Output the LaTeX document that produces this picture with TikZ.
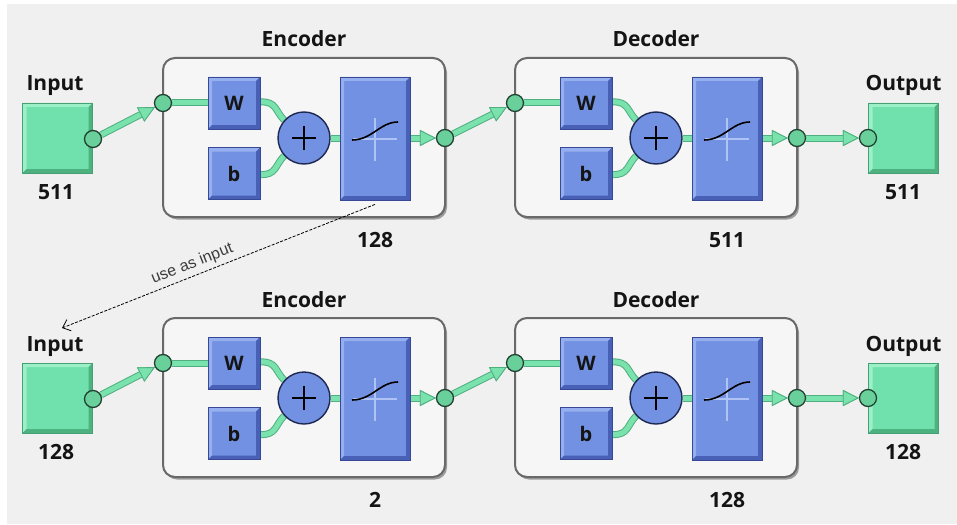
\documentclass[tikz,border=0pt]{standalone}
\usepackage{fontspec}
\setmainfont{Open Sans}
\newfontfamily\notefont{Liberation Sans}
\usetikzlibrary{arrows.meta,shapes.geometric,shadows}
\pgfdeclarelayer{bg}
\pgfdeclarelayer{mid}
\pgfsetlayers{bg,mid,main}
\definecolor{bgc}{RGB}{240,240,240}
\definecolor{boxc}{RGB}{246,246,246}
\definecolor{framec}{RGB}{105,105,105}
\definecolor{bluec}{RGB}{114,145,226}
\definecolor{bluelt}{RGB}{150,175,238}
\definecolor{bluedk}{RGB}{72,96,182}
\definecolor{blueol}{RGB}{55,72,150}
\definecolor{sumol}{RGB}{30,40,80}
\definecolor{sqc}{RGB}{112,225,172}
\definecolor{sqlt}{RGB}{155,240,200}
\definecolor{sqdk}{RGB}{78,178,128}
\definecolor{sqol}{RGB}{70,160,115}
\definecolor{pipec}{RGB}{122,226,172}
\definecolor{pipedk}{RGB}{80,175,128}
\definecolor{portc}{RGB}{105,208,155}
\definecolor{portol}{RGB}{35,65,50}
\definecolor{crossc}{RGB}{175,195,245}
\definecolor{labc}{RGB}{20,20,20}
\definecolor{notec}{RGB}{60,60,60}
\tikzset{
 bevel/.style 2 args={path picture={
   \fill[#1] (path picture bounding box.north west) -- (path picture bounding box.north east) -- ([xshift=-4pt,yshift=-4pt]path picture bounding box.north east) -- ([xshift=4pt,yshift=-4pt]path picture bounding box.north west) -- ([xshift=4pt,yshift=4pt]path picture bounding box.south west) -- (path picture bounding box.south west) -- cycle;
   \fill[#2] (path picture bounding box.south east) -- (path picture bounding box.north east) -- ([xshift=-4pt,yshift=-4pt]path picture bounding box.north east) -- ([xshift=-4pt,yshift=4pt]path picture bounding box.south east) -- ([xshift=4pt,yshift=4pt]path picture bounding box.south west) -- (path picture bounding box.south west) -- cycle;
 }},
 lab/.style={font=\fontsize{21}{25}\selectfont\bfseries, text=labc, anchor=base, inner sep=0pt},
 frame/.style={rectangle, draw=framec, line width=2pt, fill=boxc, rounded corners=12pt, minimum width=282pt, minimum height=159pt, inner sep=0pt, drop shadow={shadow xshift=2pt, shadow yshift=-2.5pt, opacity=0.35, fill=black}},
 wbox/.style={rectangle, draw=blueol, line width=0.8pt, fill=bluec, bevel={bluelt}{bluedk}, minimum width=52pt, minimum height=52pt, inner sep=0pt, font=\fontsize{20}{20}\selectfont\bfseries, text=labc},
 tfbox/.style={rectangle, draw=blueol, line width=0.8pt, fill=bluec, bevel={bluelt}{bluedk}, minimum width=70pt, minimum height=123pt, inner sep=0pt},
 sq/.style={rectangle, draw=sqol, line width=0.8pt, fill=sqc, bevel={sqlt}{sqdk}, minimum width=70pt, minimum height=70pt, inner sep=0pt},
 port/.style={circle, draw=portol, line width=1.3pt, fill=portc, minimum size=17pt, inner sep=0pt},
 sumc/.style={circle, draw=sumol, line width=1.4pt, fill=bluec, minimum size=52pt, inner sep=0pt},
 plusl/.style={line width=2.6pt, draw=black},
 sig/.style={line width=1.6pt, draw=black},
 crossl/.style={line width=1.2pt, draw=crossc},
 pipe/.style={line width=5pt, draw=pipec, preaction={draw=pipedk, line width=7pt}},
 arrpipe/.style={pipe, -{Triangle[length=16pt,width=16pt,line width'=0.8pt,color=pipedk,fill=pipec]}},
 link/.style={line width=0.8pt, draw=black, dash pattern=on 3pt off 1.5pt, -{Straight Barb[length=7pt,width=12pt]}},
}
\begin{document}
\begin{tikzpicture}[x=1pt,y=-1pt]
\useasboundingbox (0,0) rectangle (957,524);
\begin{pgfonlayer}{bg}
\fill[white] (0,0) rectangle (957,524);
\fill[bgc] (7,4) rectangle (957,524);
\foreach \r/\dy in {1/0,2/260}{
 \node[frame] (enc\r) at (304,137.5+\dy) {};
 \node[frame] (dec\r) at (656,137.5+\dy) {};
}
\end{pgfonlayer}
\foreach \r/\dy/\na/\nb/\nc/\nd in {1/0/511/128/511/511,2/260/128/2/128/128}{
\begin{scope}[shift={(0,\dy)}]
 \node[lab] (encl\r) at (304,47) {Encoder};
 \node[lab] (decl\r) at (656,47) {Decoder};
 \node[lab] (inl\r) at (55,91) {Input};
 \node[lab] (outl\r) at (903.5,91) {Output};
 \node[lab] (inn\r) at (56,199) {\na};
 \node[lab] (outn\r) at (903,199) {\nd};
 \node[lab] (encn\r) at (375,247) {\nb};
 \node[lab] (decn\r) at (727,247) {\nc};
 \node[sq] (insq\r) at (57.5,138) {};
 \node[sq] (outsq\r) at (903.5,138) {};
 \node[wbox] (encw\r) at (234,103) {W};
 \node[wbox] (encb\r) at (234,173.5) {b};
 \node[sumc] (encs\r) at (304,138) {};
 \node[tfbox] (enct\r) at (375,138.5) {};
 \node[wbox] (decw\r) at (586,103) {W};
 \node[wbox] (decb\r) at (586,173.5) {b};
 \node[sumc] (decs\r) at (656,138) {};
 \node[tfbox] (dect\r) at (727,138.5) {};
 \node[port] (inp\r) at (93,139) {};
 \node[port] (encin\r) at (163,103) {};
 \node[port] (encout\r) at (445,138) {};
 \node[port] (decin\r) at (515,103) {};
 \node[port] (decout\r) at (797,138) {};
 \node[port] (outp\r) at (868,138) {};
 \foreach \s in {encs\r,decs\r}{
  \draw[plusl] ([xshift=-12pt]\s.center) -- ([xshift=12pt]\s.center);
  \draw[plusl] ([yshift=-12pt]\s.center) -- ([yshift=12pt]\s.center);
 }
 \foreach \t in {enct\r,dect\r}{
  \draw[crossl] ([yshift=-0.5pt,xshift=-22pt]\t.center) -- ([yshift=-0.5pt,xshift=22pt]\t.center);
  \draw[crossl] ([yshift=21pt]\t.center) -- ([yshift=-22pt]\t.center);
  \draw[sig] ([xshift=-23pt,yshift=-1.5pt]\t.center) .. controls +(20pt,0pt) and +(-18pt,0pt) .. ([xshift=23pt,yshift=16.5pt]\t.center);
 }
\end{scope}
}
\begin{pgfonlayer}{mid}
\foreach \r in {1,2}{
 \draw[arrpipe] (inp\r) -- (encin\r);
 \draw[arrpipe] (encout\r) -- (decin\r);
 \draw[arrpipe] (decout\r) -- (outp\r);
 \foreach \p in {enc,dec}{
  \draw[pipe] (\p in\r) -- (\p w\r);
  \draw[pipe] ([yshift=1pt]\p w\r.east) .. controls +(16pt,1pt) and +(-9pt,9pt) .. (\p s\r.138);
  \draw[pipe] ([yshift=-1pt]\p b\r.east) .. controls +(16pt,-1pt) and +(-9pt,-9pt) .. (\p s\r.-138);
  \draw[pipe] (\p s\r.east) -- (\p s\r.east -| \p t\r.west);
  \draw[arrpipe] (\p t\r.east |- \p out\r) -- (\p out\r);
 }
}
\end{pgfonlayer}
\coordinate (ls) at ([yshift=-4pt]enct1.south);
\coordinate (le) at (62,328);
\draw[link] (ls) -- (le);
\path (le) -- (ls) node[pos=0.43, sloped, above=4pt, font=\notefont\fontsize{16}{18}\selectfont, text=notec, inner sep=0pt] (uselab) {use as input};
\end{tikzpicture}
\end{document}
